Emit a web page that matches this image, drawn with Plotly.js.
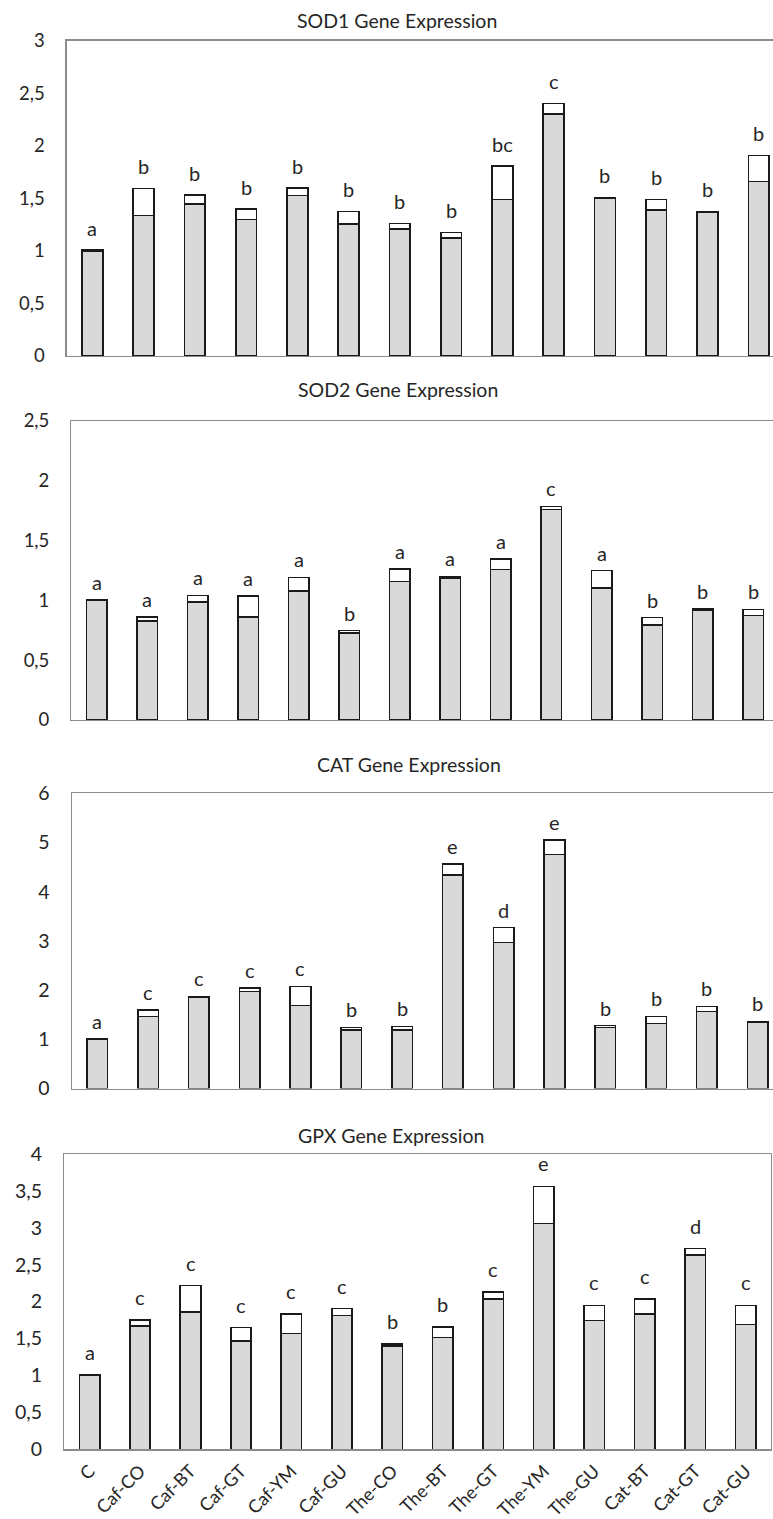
<!DOCTYPE html>
<html>
<head>
<meta charset="utf-8">
<script src="https://cdn.plot.ly/plotly-3.0.1.min.js"></script>
<style>html,body{margin:0;padding:0;background:#fff;overflow:hidden;width:773px;height:1519px}</style>
</head>
<body>
<div id="chart" style="width:800px;height:1519px"></div>
<script>
// ---------- data ----------
const categories = ['C','Caf-CO','Caf-BT','Caf-GT','Caf-YM','Caf-GU','The-CO','The-BT','The-GT','The-YM','The-GU','Cat-BT','Cat-GT','Cat-GU'];

const sod1Mean = [1.00, 1.335, 1.446, 1.30, 1.526, 1.256, 1.208, 1.123, 1.49, 2.303, 1.497, 1.392, 1.364, 1.662];
const sod1SD   = [0.01, 0.26, 0.086, 0.10, 0.07, 0.12, 0.054, 0.054, 0.315, 0.10, 0.013, 0.098, 0.012, 0.247];
const sod1Letters = ['a','b','b','b','b','b','b','b','bc','c','b','b','b','b'];

const sod2Mean = [1.00, 0.83, 0.987, 0.861, 1.081, 0.725, 1.157, 1.185, 1.257, 1.759, 1.104, 0.792, 0.92, 0.875];
const sod2SD   = [0.005, 0.03, 0.055, 0.176, 0.112, 0.022, 0.106, 0.016, 0.089, 0.027, 0.145, 0.064, 0.011, 0.05];
const sod2Letters = ['a','a','a','a','a','b','a','a','a','c','a','b','b','b'];

const catMean = [1.00, 1.467, 1.846, 1.968, 1.69, 1.189, 1.189, 4.339, 2.964, 4.759, 1.243, 1.318, 1.568, 1.345];
const catSD   = [0.01, 0.13, 0.027, 0.08, 0.387, 0.054, 0.075, 0.224, 0.305, 0.292, 0.034, 0.149, 0.10, 0.02];
const catLetters = ['a','c','c','c','c','b','b','e','d','e','b','b','b','b'];

const gpxMean = [1.00, 1.67, 1.86, 1.463, 1.571, 1.815, 1.40, 1.517, 2.036, 3.061, 1.743, 1.833, 2.628, 1.693];
const gpxSD   = [0.005, 0.08, 0.357, 0.185, 0.262, 0.09, 0.03, 0.14, 0.095, 0.50, 0.207, 0.199, 0.09, 0.257];
const gpxLetters = ['a','c','c','c','c','c','b','b','c','e','c','c','d','c'];

const panelTitles = ['SOD1 Gene Expression','SOD2 Gene Expression','CAT Gene Expression','GPX Gene Expression'];

// ---------- layout / style ----------
const W = 800, H = 1519;
const FONT = 'Lato, "Open Sans", sans-serif';
const TXT = '#262626';
const AXC = '#8c8c8c';

const panels = [
  {mean: sod1Mean, sd: sod1SD, letters: sod1Letters, ymax: 3,   dtick: 0.5, left: 66.7, catW: 51.26, top: 40.7,  bottom: 356,    mirrorY: false, tick: 18.5, letter: 20, shift: 8,  title: {x: 397, y: 20}},
  {mean: sod2Mean, sd: sod2SD, letters: sod2Letters, ymax: 2.5, dtick: 0.5, left: 71.3, catW: 50.53, top: 421,   bottom: 720,    mirrorY: false, tick: 18.5, letter: 20, shift: 4,  title: {x: 398, y: 389}},
  {mean: catMean,  sd: catSD,  letters: catLetters,  ymax: 6,   dtick: 1,   left: 71.8, catW: 50.81, top: 793.3, bottom: 1088.5, mirrorY: false, tick: 19.5, letter: 20, shift: 4,  title: {x: 409, y: 764}},
  {mean: gpxMean,  sd: gpxSD,  letters: gpxLetters,  ymax: 4,   dtick: 0.5, left: 64.3, catW: 50.48, top: 1154,  bottom: 1449.3, mirrorY: true,  tick: 19.5, letter: 20, shift: 9,  title: {x: 391, y: 1135}}
];

const traces = [];
const layout = {
  width: W, height: H,
  margin: {l: 0, r: 0, t: 0, b: 0},
  paper_bgcolor: '#fff', plot_bgcolor: '#fff',
  barmode: 'stack',
  showlegend: false,
  separators: ', ',
  font: {family: FONT, color: TXT, size: 18},
  title: {text: ''},
  annotations: []
};

panels.forEach((p, i) => {
  const n = i === 0 ? '' : String(i + 1);
  const xa = 'x' + n, ya = 'y' + n;
  traces.push({
    type: 'bar', x: categories, y: p.mean, xaxis: xa, yaxis: ya, width: 0.405,
    marker: {color: '#d9d9d9', line: {color: '#1a1a1a', width: 1.6}},
    hoverinfo: 'skip'
  });
  traces.push({
    type: 'bar', x: categories, y: p.sd, xaxis: xa, yaxis: ya, width: 0.405,
    marker: {color: '#ffffff', line: {color: '#1a1a1a', width: 1.6}},
    hoverinfo: 'skip'
  });
  const right = p.left + p.catW * categories.length;
  layout['xaxis' + n] = {
    domain: [p.left / W, right / W], anchor: ya, type: 'category',
    range: [-0.5, categories.length - 0.5],
    showline: true, mirror: true, linecolor: AXC, linewidth: 1.3,
    ticks: '', showgrid: false, zeroline: false, fixedrange: true, automargin: false,
    showticklabels: i === 3, tickangle: -45, ticklabelstandoff: 3,
    tickfont: {family: FONT, size: 18, color: TXT}
  };
  layout['yaxis' + n] = {
    domain: [1 - p.bottom / H, 1 - p.top / H], anchor: xa,
    range: [0, p.ymax], dtick: p.dtick, tick0: 0,
    showline: true, mirror: p.mirrorY, linecolor: AXC, linewidth: 1.3,
    ticks: '', showgrid: false, zeroline: false, fixedrange: true, automargin: false,
    ticklabelstandoff: 17,
    tickfont: {family: FONT, size: p.tick, color: TXT}
  };
  categories.forEach((c, k) => {
    layout.annotations.push({
      xref: xa, yref: ya, x: c, y: p.mean[k] + p.sd[k],
      text: p.letters[k], showarrow: false, yanchor: 'bottom', yshift: p.shift,
      font: {family: FONT, size: p.letter, color: TXT}
    });
  });
  layout.annotations.push({
    xref: 'paper', yref: 'paper', x: p.title.x / W, y: 1 - p.title.y / H,
    xanchor: 'center', yanchor: 'middle', text: panelTitles[i], showarrow: false,
    font: {family: FONT, size: 19.5, color: TXT}
  });
});

Plotly.newPlot('chart', traces, layout, {staticPlot: true, displayModeBar: false});
</script>
</body>
</html>
